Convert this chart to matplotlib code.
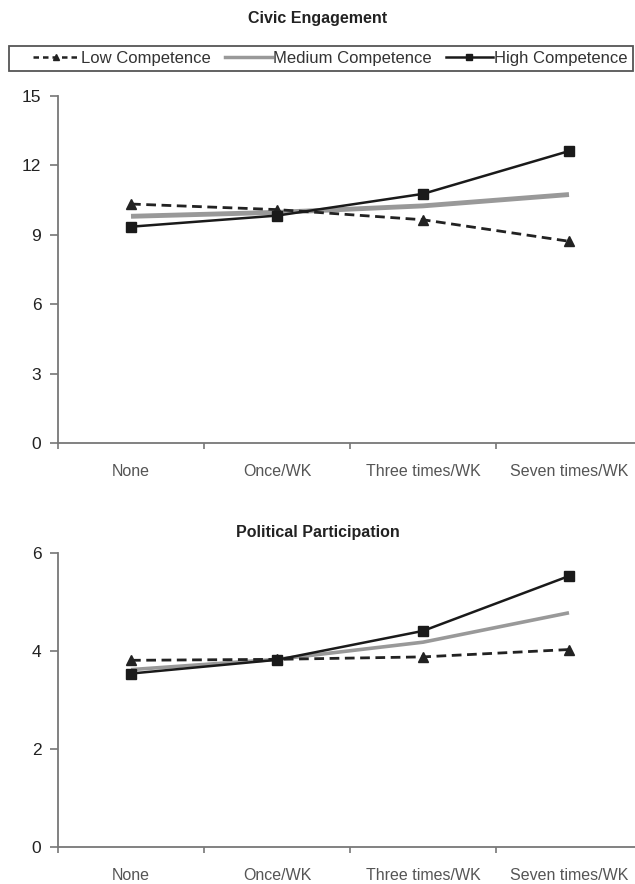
import matplotlib.pyplot as plt
from matplotlib.lines import Line2D
from matplotlib.patches import Rectangle

plt.rcParams['font.family'] = ['Liberation Sans', 'DejaVu Sans']

categories = ['None', 'Once/WK', 'Three times/WK', 'Seven times/WK']

civic_low = [10.33, 10.09, 9.65, 8.72]
civic_med = [9.80, 9.97, 10.25, 10.74]
civic_high = [9.35, 9.83, 10.77, 12.62]

pol_low = [3.81, 3.83, 3.88, 4.03]
pol_med = [3.62, 3.83, 4.18, 4.78]
pol_high = [3.54, 3.82, 4.41, 5.53]

W, H = 635, 884
fig = plt.figure(figsize=(W / 100, H / 100), dpi=100)

ax1 = fig.add_axes([58 / W, 1 - 443 / H, 584 / W, 347 / H])
ax2 = fig.add_axes([58 / W, 1 - 847 / H, 584 / W, 294 / H])

x = range(len(categories))


def style_axis(ax, ymax, step):
    ax.set_xlim(-0.5, 3.5)
    ax.set_ylim(0, ymax)
    ax.set_yticks(range(0, ymax + 1, step))
    ax.set_xticks(list(x))
    ax.set_xticklabels(categories, fontsize=11.5, color='#555555')
    ax.set_xticks([-0.5, 0.5, 1.5, 2.5, 3.5], minor=True)
    ax.tick_params(axis='x', which='major', length=0, pad=15)
    ax.tick_params(axis='x', which='minor', length=4, width=1.2, color='#777777', direction='out')
    ax.tick_params(axis='y', length=6, width=1.2, color='#777777', pad=6,
                   labelsize=12.5, labelcolor='#222222')
    for s in ['top', 'right']:
        ax.spines[s].set_visible(False)
    for s in ['left', 'bottom']:
        ax.spines[s].set_color('#777777')
        ax.spines[s].set_linewidth(1.3)


def draw(ax, low, med, high, med_lw):
    ax.plot(x, med, color='#999999', lw=med_lw, solid_capstyle='butt', zorder=2)
    ax.plot(x, low, color='#222222', lw=2, ls=(0, (3.5, 2)), marker='^', ms=7, zorder=3)
    ax.plot(x, high, color='#1a1a1a', lw=1.8, marker='s', ms=6.5, zorder=4)


draw(ax1, civic_low, civic_med, civic_high, 3.5)
draw(ax2, pol_low, pol_med, pol_high, 2.6)
style_axis(ax1, 15, 3)
style_axis(ax2, 6, 2)

fig.text(318 / W, 1 - 18 / H, 'Civic Engagement', ha='center', va='center',
         fontsize=11.5, fontweight='bold', color='#222222')
fig.text(318 / W, 1 - 533 / H, 'Political Participation', ha='center', va='center',
         fontsize=11.5, fontweight='bold', color='#222222')

# legend box
fig.patches.append(Rectangle((9 / W, 1 - 71 / H), 624 / W, 25 / H,
                             transform=fig.transFigure, fill=False,
                             edgecolor='#555555', lw=1.3))

handles = [
    Line2D([], [], color='#222222', lw=1.8, ls=(0, (2.2, 1.6)), marker='^', ms=5),
    Line2D([], [], color='#999999', lw=2.5),
    Line2D([], [], color='#1a1a1a', lw=1.8, marker='s', ms=5),
]
labels = ['Low Competence', 'Medium Competence', 'High Competence']
leg = fig.legend(handles, labels, loc='center', ncol=3,
                 bbox_to_anchor=(33 / W, 1 - 71 / H, 595 / W, 25 / H), mode='expand',
                 fontsize=12, frameon=False, borderpad=0,
                 handlelength=2.8, handletextpad=0.1, columnspacing=1.0,
                 borderaxespad=0)
for t in leg.get_texts():
    t.set_color('#333333')

fig.savefig('out.png', dpi=100)
